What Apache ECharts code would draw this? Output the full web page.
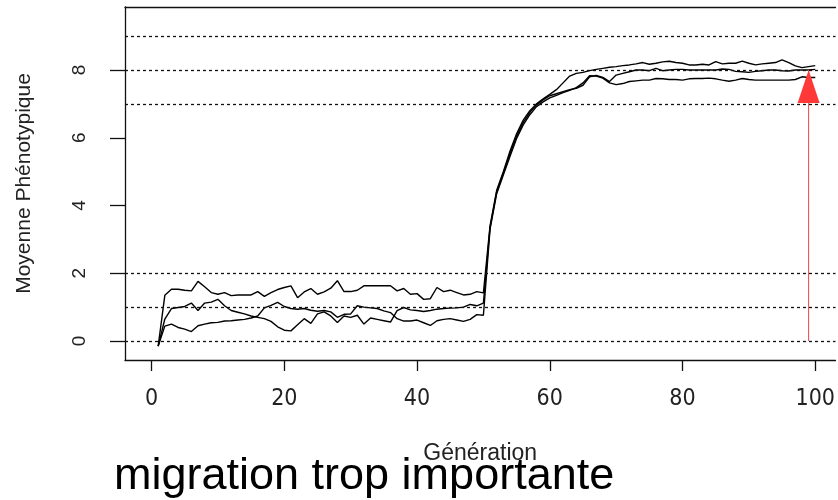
<!DOCTYPE html>
<html><head><meta charset="utf-8">
<script src="https://cdn.jsdelivr.net/npm/echarts@6/dist/echarts.min.js"></script>
<style>html,body{margin:0;padding:0;background:#fff}#c{width:838px;height:500px}</style>
</head><body><div id="c"></div>
<script>
// ---- data ----
const popA = [-0.15,1.35,1.53,1.53,1.50,1.48,1.76,1.60,1.43,1.38,
  1.43,1.34,1.36,1.36,1.36,1.46,1.32,1.43,1.52,1.58,
  1.63,1.28,1.45,1.55,1.38,1.45,1.56,1.78,1.46,1.46,
  1.50,1.63,1.63,1.63,1.63,1.63,1.48,1.55,1.38,1.40,
  1.23,1.25,1.58,1.46,1.50,1.43,1.36,1.38,1.46,1.42,
  3.40,4.45,5.00,5.60,6.12,6.52,6.80,7.00,7.15,7.28,
  7.42,7.62,7.82,7.90,7.93,7.98,8.02,8.05,8.08,8.10,
  8.13,8.15,8.18,8.22,8.17,8.20,8.24,8.26,8.22,8.20,
  8.15,8.15,8.17,8.15,8.25,8.18,8.20,8.20,8.26,8.20,
  8.15,8.18,8.20,8.22,8.30,8.22,8.12,8.07,8.10,8.13];
const popB = [-0.15,0.65,0.96,0.99,1.02,1.12,0.90,1.12,1.15,1.23,
  1.04,0.90,0.85,0.80,0.74,0.70,0.66,0.58,0.42,0.32,
  0.30,0.48,0.66,0.52,0.80,0.86,0.74,0.55,0.74,0.70,
  0.76,0.50,0.68,0.64,0.60,0.56,0.90,0.99,0.92,0.90,
  0.87,0.90,0.94,0.96,0.97,0.98,1.00,1.08,1.04,1.12,
  3.35,4.40,4.95,5.52,6.05,6.45,6.75,6.97,7.12,7.24,
  7.30,7.36,7.42,7.46,7.55,7.80,7.84,7.78,7.66,7.85,
  7.90,7.95,8.00,8.00,7.98,8.05,7.98,8.00,8.02,8.02,
  8.00,8.00,8.00,8.00,8.00,8.03,8.02,7.96,7.95,7.93,
  7.96,7.98,8.00,8.00,7.98,7.97,8.00,8.00,8.00,8.02];
const popC = [-0.15,0.44,0.50,0.40,0.35,0.28,0.45,0.50,0.54,0.55,
  0.59,0.60,0.62,0.64,0.68,0.74,0.98,1.05,1.14,1.02,
  0.96,0.94,0.96,0.91,0.88,0.90,0.86,0.70,0.79,0.80,
  1.04,1.00,0.98,0.96,0.89,0.84,0.66,0.59,0.59,0.62,
  0.54,0.46,0.60,0.64,0.66,0.62,0.58,0.64,0.78,0.76,
  3.30,4.35,4.90,5.45,5.98,6.38,6.68,6.92,7.06,7.18,
  7.25,7.33,7.40,7.48,7.62,7.83,7.82,7.76,7.62,7.57,
  7.60,7.66,7.68,7.70,7.70,7.75,7.74,7.72,7.72,7.70,
  7.74,7.75,7.75,7.76,7.74,7.70,7.67,7.70,7.75,7.72,
  7.70,7.70,7.70,7.70,7.70,7.70,7.72,7.80,7.78,7.78];
const refLevels = [0, 1, 2, 7, 8, 9];
const xTicks = [0, 20, 40, 60, 80, 100];
const yTicks = [0, 2, 4, 6, 8];
const arrowGen = 99, arrowFrom = 0, arrowTo = 8;
const xTitle = 'Génération';
const yTitle = 'Moyenne Phénotypique';
const caption = 'migration trop importante';

const gens = popA.map((_, i) => i + 1);
const toPts = arr => arr.map((v, i) => [gens[i], v]);

const narrow = "'Liberation Sans Narrow','DejaVu Sans Condensed','Liberation Sans',sans-serif";
const sans = "'Liberation Sans',Arial,sans-serif";
const chart = echarts.init(document.getElementById('c'));
const frame = { show: true, onZero: false, lineStyle: { color: '#111', width: 1.3 } };
const curve = d => ({
  type: 'line', data: toPts(d), showSymbol: false, symbol: 'none', xAxisIndex: 0,
  lineStyle: { color: '#000', width: 1.4 }, animation: false, silent: true, z: 3
});
chart.setOption({
  animation: false,
  backgroundColor: '#fff',
  grid: { left: 125, top: 7, right: 0, bottom: 140 },
  title: {
    text: caption, left: 109, top: 449,
    textStyle: { fontFamily: sans, fontSize: 45, fontWeight: 'normal', color: '#000' }
  },
  xAxis: [{
    type: 'value', min: -4, max: 103.05, position: 'bottom',
    name: xTitle, nameLocation: 'middle', nameGap: 82,
    nameTextStyle: { fontFamily: sans, fontSize: 23, color: '#222' },
    axisLine: frame,
    axisTick: { show: true, length: 11, lineStyle: { color: '#111', width: 1.3 }, customValues: xTicks },
    axisLabel: { margin: 28, fontFamily: narrow, fontSize: 23, color: '#222', customValues: xTicks },
    splitLine: { show: false }
  }, {
    type: 'value', min: -4, max: 103.05, position: 'top',
    axisLine: frame, axisTick: { show: false }, axisLabel: { show: false }, splitLine: { show: false }
  }],
  yAxis: {
    type: 'value', min: -0.56, max: 9.86,
    name: yTitle, nameLocation: 'middle', nameGap: 90, nameRotate: 90,
    nameTextStyle: { fontFamily: sans, fontSize: 21, color: '#222' },
    axisLine: frame,
    axisTick: { show: true, length: 15, lineStyle: { color: '#111', width: 1.3 }, customValues: yTicks },
    axisLabel: { rotate: 90, margin: 36, fontFamily: sans, fontSize: 19, color: '#222', customValues: yTicks },
    splitLine: { show: false }
  },
  series: [
    {
      type: 'line', data: [], silent: true,
      markLine: {
        silent: true, symbol: ['none', 'none'], label: { show: false },
        lineStyle: { color: '#111', type: [3, 3], width: 1.3 },
        data: refLevels.map(v => ({ yAxis: v }))
      }
    },
    curve(popA), curve(popB), curve(popC),
    {
      type: 'line', silent: true, z: 4,
      data: [
        { value: [arrowGen, arrowFrom], symbol: 'none' },
        { value: [arrowGen, arrowTo], symbol: 'triangle', symbolSize: [22, 33], symbolOffset: [0, '50%'] }
      ],
      showSymbol: true,
      lineStyle: { color: '#e84848', width: 1 },
      itemStyle: { color: '#ff3838' }
    }
  ]
});
</script></body></html>
